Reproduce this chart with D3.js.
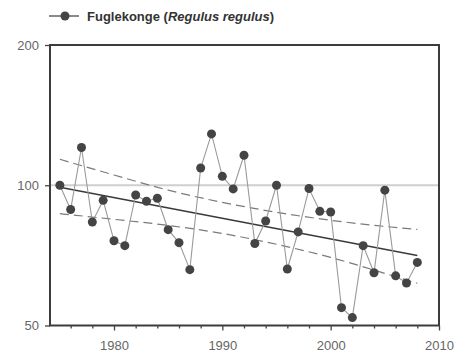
<!DOCTYPE html>
<html><head><meta charset="utf-8">
<script src="https://cdn.jsdelivr.net/npm/d3@7"></script>
<style>body{margin:0;background:#fff}svg{display:block}</style>
</head><body><svg id="c" width="458" height="353"></svg>
<script>
const years = [1975,1976,1977,1978,1979,1980,1981,1982,1983,1984,1985,1986,1987,1988,1989,1990,1991,1992,1993,1994,1995,1996,1997,1998,1999,2000,2001,2002,2003,2004,2005,2006,2007,2008];
const index = [100,88.7,120.5,83.4,92.8,76,74.2,95.3,92.4,93.8,80.3,75.3,65.9,108.9,128.9,104.5,98.2,116,75,83.8,100,66.1,79.4,98.4,87.9,87.6,54.6,52,74.2,64.9,97.6,63.9,61.7,68.3];
const trendYears = [1975,2008];
const trendValues = [99,70.7];
const ciYears = [1975,1980,1985,1990,1995,2000,2005,2008];
const ciUpper = [113.7,105.2,97.6,91.9,87.5,84.1,81.6,80.4];
const ciLower = [86.9,84.5,82.0,78.8,74.7,70.0,64.7,61.6];
const yTicks = [50,100,200];
const xTicks = [1980,1990,2000,2010];
const legendName = "Fuglekonge (";
const legendLatin = "Regulus regulus";
const refValue = 100;

const svg = d3.select("#c");
const L=50,R=439,T=45,B=325.5;
const x = d3.scaleLinear().domain([1974,2010]).range([49,439]);
const y = d3.scaleLog().domain([50,200]).range([B,T]);

// reference line at 100
svg.append("line").attr("x1",L).attr("x2",R).attr("y1",y(refValue)).attr("y2",y(refValue))
  .attr("stroke","#cfcfcf").attr("stroke-width",2);

// CI dashed
const cl = d3.line().curve(d3.curveMonotoneX).x(d=>x(d[0])).y(d=>y(d[1]));
[ciUpper,ciLower].forEach(arr=>{
  svg.append("path").attr("d",cl(ciYears.map((yr,i)=>[yr,arr[i]])))
    .attr("fill","none").attr("stroke","#7a7a7a").attr("stroke-width",1.2).attr("stroke-dasharray","9,5");
});
// trend
svg.append("path").attr("d",d3.line().x(d=>x(d[0])).y(d=>y(d[1]))(trendYears.map((yr,i)=>[yr,trendValues[i]])))
  .attr("fill","none").attr("stroke","#3a3a3a").attr("stroke-width",1.5);

// data line
const pts = years.map((yr,i)=>[yr,index[i]]);
svg.append("path").attr("d",d3.line().x(d=>x(d[0])).y(d=>y(d[1]))(pts))
  .attr("fill","none").attr("stroke","#9a9a9a").attr("stroke-width",1.1);
svg.selectAll("circle.p").data(pts).enter().append("circle").attr("class","p")
  .attr("cx",d=>x(d[0])).attr("cy",d=>y(d[1])).attr("r",4.5).attr("fill","#444");

// frame
svg.append("rect").attr("x",L).attr("y",T).attr("width",R-L).attr("height",B-T)
  .attr("fill","none").attr("stroke","#3c3c3c").attr("stroke-width",2);

// x axis
const xa = svg.append("g").attr("transform",`translate(0,${B})`)
  .call(d3.axisBottom(x).tickValues(xTicks).tickFormat(d3.format("d")).tickSize(5).tickPadding(10));
const xm = svg.append("g").attr("transform",`translate(0,${B})`)
  .call(d3.axisBottom(x).tickValues(d3.range(1976,2010,2).filter(v=>v%10!==0)).tickSize(3).tickFormat(""));
const ya = svg.append("g").attr("transform",`translate(${L},0)`)
  .call(d3.axisLeft(y).tickValues(yTicks).tickFormat(d3.format("d")).tickSize(5).tickPadding(6));
[xa,xm,ya].forEach(g=>{
  g.select(".domain").remove();
  g.selectAll("line").attr("stroke","#444").attr("stroke-width",1.3);
  g.selectAll("text").attr("font-family","Liberation Sans, Arial, sans-serif").attr("font-size",13).attr("fill","#666");
});

// legend
svg.append("line").attr("x1",49).attr("x2",79).attr("y1",16).attr("y2",16).attr("stroke","#8a8a8a").attr("stroke-width",2);
svg.append("circle").attr("cx",65).attr("cy",16).attr("r",4.5).attr("fill","#444");
const lt = svg.append("text").attr("x",87).attr("y",20.5).attr("font-family","Liberation Sans, Arial, sans-serif")
  .attr("font-size",13).attr("font-weight","bold").attr("fill","#333");
lt.append("tspan").text(legendName);
lt.append("tspan").attr("font-style","italic").text(legendLatin);
lt.append("tspan").text(")");
</script></body></html>
